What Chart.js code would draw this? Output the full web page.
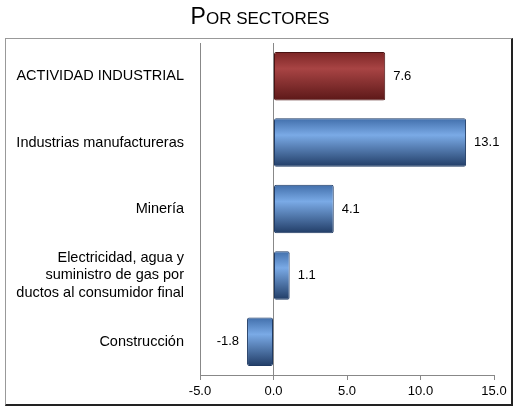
<!DOCTYPE html>
<html>
<head>
<meta charset="utf-8">
<script src="https://cdn.jsdelivr.net/npm/chart.js@4"></script>
<style>
  body { margin: 0; background: #fff; }
  #wrap { position: relative; width: 520px; height: 413px; }
  #frame { position: absolute; left: 5px; top: 38px; width: 505px; height: 365px;
           border: 1px solid #999; border-right: 2px solid #222; border-bottom: 2px solid #222; }
  canvas { position: absolute; left: 0; top: 0; }
</style>
</head>
<body>
<div id="wrap">
  <div id="frame"></div>
  <canvas id="c" width="520" height="413"></canvas>
</div>
<script>
const categories = [
  "ACTIVIDAD INDUSTRIAL",
  "Industrias manufactureras",
  "Minería",
  ["Electricidad, agua y", "suministro de gas por", "ductos al consumidor final"],
  "Construcción"
];
const values = [7.6, 13.1, 4.1, 1.1, -1.8];
const tickLabels = ["-5.0", "0.0", "5.0", "10.0", "15.0"];

const FONT = "'Liberation Sans', Arial, sans-serif";

function barFill(ctx) {
  const chart = ctx.chart;
  const area = chart.chartArea;
  if (!area) return "#4f81bd";
  const y = chart.scales.y.getPixelForValue(ctx.dataIndex);
  const h = 25;
  const g = chart.ctx.createLinearGradient(0, y - h, 0, y + h);
  if (ctx.dataIndex === 0) {
    g.addColorStop(0, "#7a2424");
    g.addColorStop(0.35, "#a84444");
    g.addColorStop(1, "#5a1717");
  } else {
    g.addColorStop(0, "#3f6ca8");
    g.addColorStop(0.35, "#7aaae6");
    g.addColorStop(1, "#1f3a63");
  }
  return g;
}

const titlePlugin = {
  id: "title2",
  afterDraw(chart) {
    const c = chart.ctx;
    c.save();
    c.fillStyle = "#000";
    c.textBaseline = "alphabetic";
    const big = "23px " + FONT, small = "17px " + FONT;
    c.font = big; const w1 = c.measureText("P").width;
    c.font = small; const w2 = c.measureText("OR SECTORES").width;
    let x = 260 - (w1 + w2) / 2;
    c.font = big; c.fillText("P", x, 24);
    c.font = small; c.fillText("OR SECTORES", x + w1, 24);
    c.restore();
  }
};

const valuePlugin = {
  id: "vals",
  afterDatasetsDraw(chart) {
    const c = chart.ctx;
    const meta = chart.getDatasetMeta(0);
    c.save();
    c.font = "13px " + FONT;
    c.fillStyle = "#000";
    c.textBaseline = "middle";
    meta.data.forEach((bar, i) => {
      const v = values[i];
      const txt = v.toFixed(1);
      if (v >= 0) { c.textAlign = "left"; c.fillText(txt, bar.x + 8, bar.y); }
      else { c.textAlign = "right"; c.fillText(txt, bar.x - 8, bar.y); }
    });
    c.restore();
  }
};

new Chart(document.getElementById("c"), {
  type: "bar",
  data: {
    labels: categories,
    datasets: [{
      data: values,
      backgroundColor: barFill,
      borderColor: ctx => ctx.dataIndex === 0 ? "#4a1212" : "#1f3a63",
      borderWidth: 1,
      borderRadius: 2,
      borderSkipped: false,
      categoryPercentage: 1,
      barPercentage: 0.73
    }]
  },
  options: {
    indexAxis: "y",
    responsive: false,
    animation: false,
    layout: { padding: { top: 43, right: 26, left: 0, bottom: 0 } },
    plugins: { legend: { display: false }, tooltip: { enabled: false } },
    scales: {
      x: {
        min: -5, max: 15,
        afterFit: s => { s.height = 38; },
        afterBuildTicks: s => { s.ticks = [-5, 0, 5, 10, 15].map(v => ({ value: v })); },
        ticks: {
          color: "#000", font: { size: 13, family: FONT }, padding: 4,
          callback: (v, i) => tickLabels[i]
        },
        grid: {
          color: c => c.tick && c.tick.value === 0 ? "#888" : "transparent",
          tickColor: "#888", tickLength: 5, drawOnChartArea: true
        },
        border: { display: true, color: "#888" }
      },
      y: {
        afterFit: s => { s.width = 200; },
        ticks: { color: "#000", font: { size: 14.5, family: FONT }, padding: 8 },
        grid: { display: false },
        border: { display: true, color: "#888" }
      }
    }
  },
  plugins: [titlePlugin, valuePlugin]
});
</script>
</body>
</html>
